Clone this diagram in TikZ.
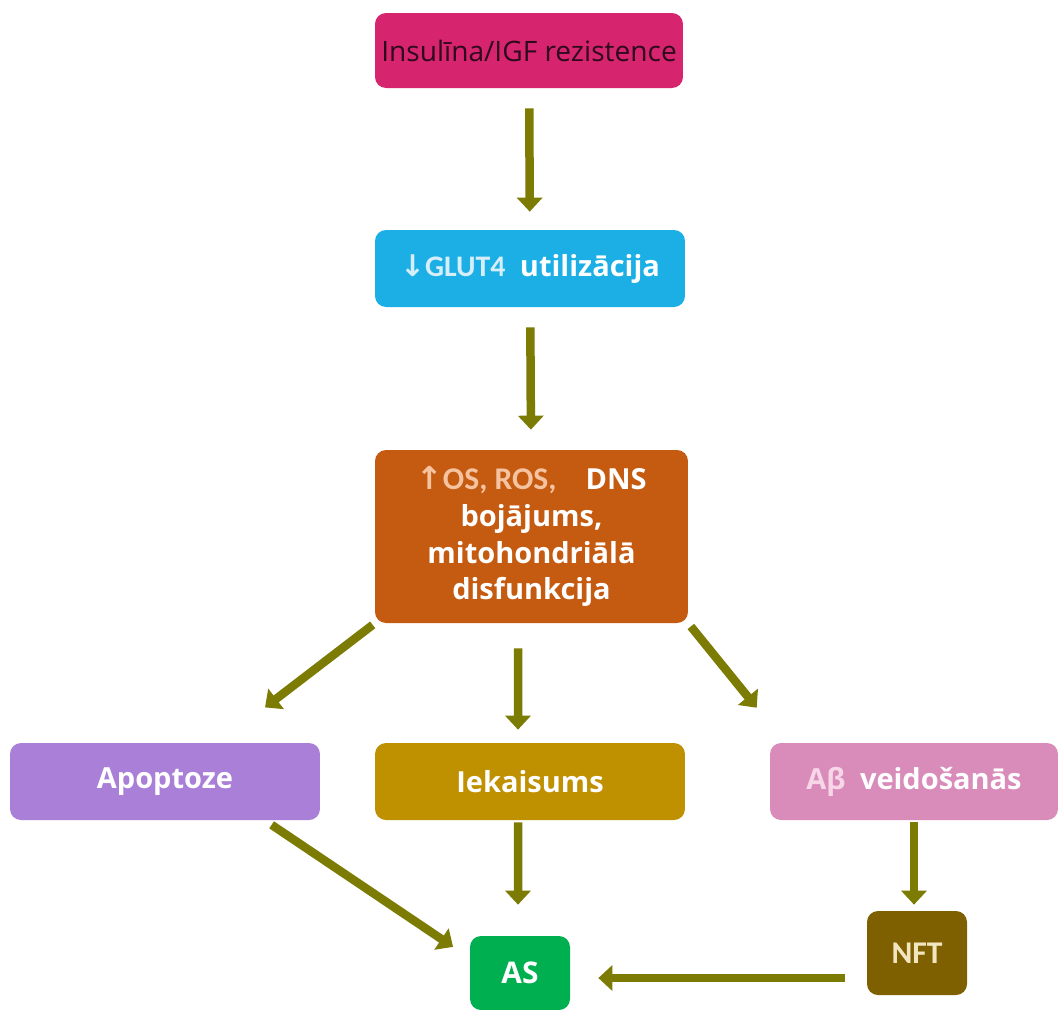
\documentclass[tikz,border=0pt]{standalone}
\usepackage{fontspec}
\setmainfont{Open Sans}
\newfontfamily\calfont{Carlito}
\newfontfamily\symfont{DejaVu Sans}
\usetikzlibrary{arrows.meta}

\definecolor{insfill}{HTML}{D6246E}
\definecolor{instext}{HTML}{2E0A1C}
\definecolor{glutfill}{HTML}{1BAFE6}
\definecolor{glutlight}{HTML}{D5EEF9}
\definecolor{dmgfill}{HTML}{C55A11}
\definecolor{ospeach}{HTML}{F6C3A0}
\definecolor{apofill}{HTML}{A97FD7}
\definecolor{iekfill}{HTML}{BF9000}
\definecolor{abfill}{HTML}{D98CBA}
\definecolor{ablight}{HTML}{F7D6E8}
\definecolor{nftfill}{HTML}{7F6000}
\definecolor{nftlight}{HTML}{F2E6C0}
\definecolor{asfill}{HTML}{00B050}
\definecolor{arrowcol}{HTML}{7C7C05}

\begin{document}
\begin{tikzpicture}[x=0.02cm, y=-0.02cm,
    box/.style={rounded corners=0.22cm, minimum width=6.2cm, minimum height=1.54cm,
        inner sep=0pt, align=center, text=white,
        font=\fontsize{16.5}{21}\selectfont\bfseries},
    flow/.style={line width=0.17cm, color=arrowcol,
        -{Triangle[width=0.5cm,length=0.28cm]}}]
    % Page size of the reference
    \fill[white] (0,0) rectangle (1060,1009);
    \useasboundingbox (0,0) rectangle (1060,1009);

    % Main chain
    \node[box, fill=insfill, text=instext, minimum width=6.16cm, minimum height=1.5cm,
        font=\fontsize{16}{21}\selectfont] (ins) at (529,50.5) {Insulīna/IGF rezistence};
    \node[box, fill=glutfill] (glut) at (530,268.5)
        {{\calfont\fontsize{17}{21}\selectfont\color{glutlight}{\symfont\bfseries↓}GLUT4}\enspace utilizācija};
    \node[box, fill=dmgfill, minimum width=6.26cm, minimum height=3.46cm] (dmg) at (531.5,536.5)
        {{\calfont\fontsize{18}{21}\selectfont\color{ospeach}{\symfont\bfseries↑}OS, ROS,}\quad DNS\\
         bojājums,\\mitohondriālā\\disfunkcija};

    % Second row
    \node[box, fill=apofill] (apo) at (165,781.5) {Apoptoze};
    \node[box, fill=iekfill] (iek) at (530,781.5) {Iekaisums};
    \node[box, fill=abfill, minimum width=5.76cm] (abeta) at (914,781.5)
        {{\color{ablight}Aβ}\enspace veidošanās};

    % Bottom
    \node[box, fill=nftfill, text=nftlight, minimum width=2cm, minimum height=1.68cm,
        font=\calfont\fontsize{18}{21}\selectfont\bfseries] (nft) at (917,953) {NFT};
    \node[box, fill=asfill, minimum width=2cm, minimum height=1.48cm,
        font=\fontsize{17}{21}\selectfont\bfseries] (as) at (520,973) {AS};

    % Arrows
    \draw[flow, shorten <=0.4cm, shorten >=0.36cm] (ins) -- (glut);
    \draw[flow, shorten <=0.4cm, shorten >=0.4cm] (glut) -- (dmg);
    \draw[flow, shorten <=0.05cm, shorten >=1.16cm] (dmg.south west) -- ([xshift=1.08cm]apo.north);
    \draw[flow, shorten <=0.5cm, shorten >=0.26cm] ([xshift=-0.27cm]dmg.south) -- ([xshift=-0.24cm]iek.north);
    \draw[flow, shorten <=0.08cm, shorten >=0.9cm] (dmg.south east) -- ([xshift=-2.58cm]abeta.north);
    \draw[flow, shorten <=0.16cm, shorten >=0.4cm] ([xshift=2cm]apo.south) -- ([yshift=0.3cm]as.west);
    \draw[flow, shorten <=0.04cm, shorten >=0.62cm] ([xshift=-0.24cm]iek.south) -- ([xshift=-0.04cm]as.north);
    \draw[flow, shorten <=0.04cm, shorten >=0.12cm] (abeta.south) -- (abeta.south |- nft.north);
    \coordinate (nftout) at ([yshift=-0.5cm]nft.west);
    \draw[flow, shorten <=0.44cm, shorten >=0.56cm] (nftout) -- (nftout -| as.east);
\end{tikzpicture}
\end{document}
